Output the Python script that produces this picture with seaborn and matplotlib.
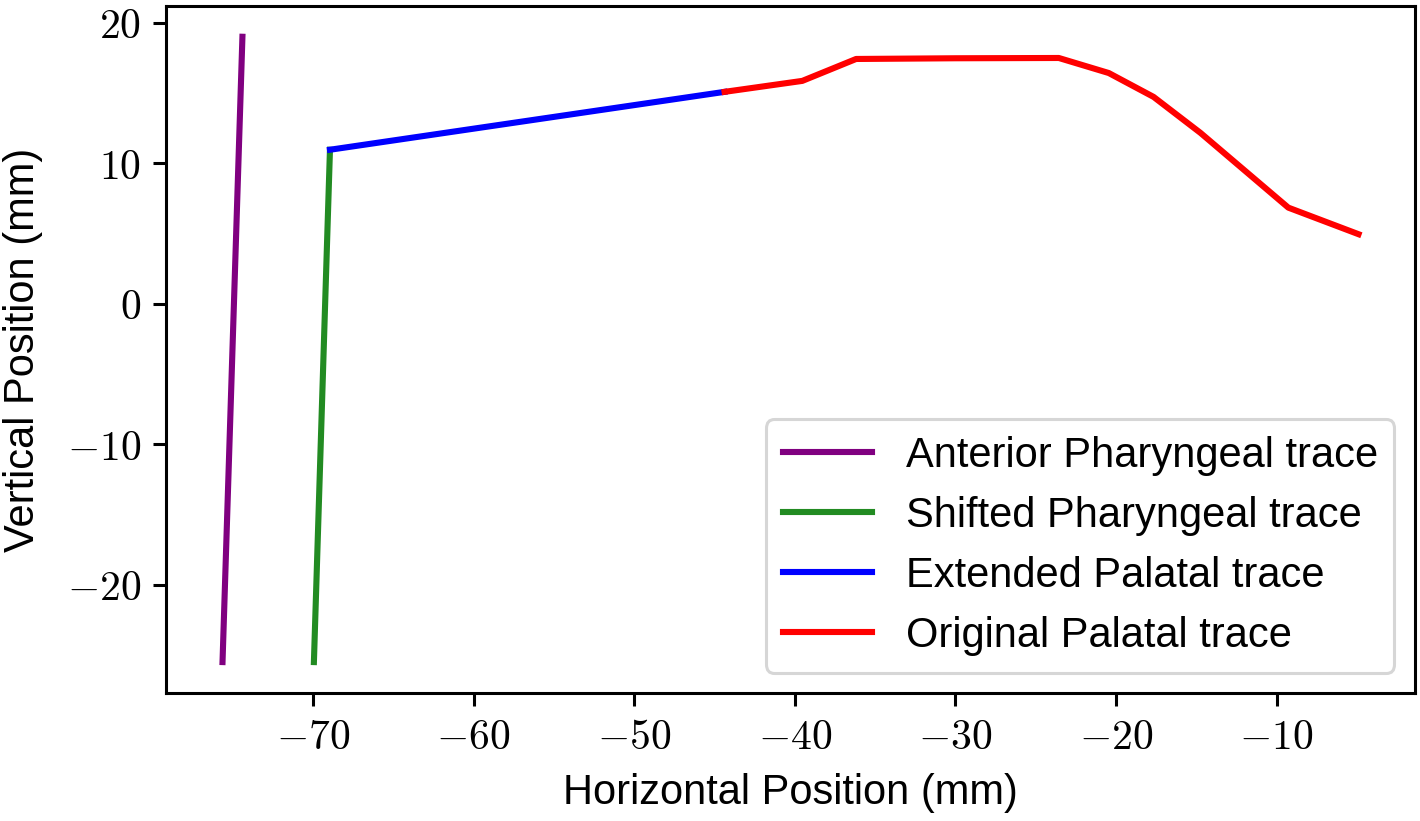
import numpy as np
import matplotlib
matplotlib.use("Agg")
import matplotlib.pyplot as plt
import seaborn as sns
from matplotlib.ticker import FuncFormatter

# traces (mm)
ant_x = [-75.63, -74.39]
ant_y = [-25.5, 19.0]

shift_x = [-69.94, -68.94]
shift_y = [-25.5, 10.96]

ext_x = [-68.94, -44.37]
ext_y = [10.96, 15.08]

orig_x = [-44.37, -39.53, -36.18, -30.0, -23.56, -20.45, -17.66, -14.74, -9.27, -4.9]
orig_y = [15.08, 15.86, 17.42, 17.47, 17.49, 16.42, 14.72, 12.16, 6.84, 4.95]

plt.rcParams['font.family'] = ['Liberation Sans', 'DejaVu Sans']
plt.rcParams['mathtext.fontset'] = 'cm'

fig = plt.figure(figsize=(7.1, 4.105), dpi=200)
ax = fig.add_axes([0.1167, 0.1555, 0.88, 0.8378])

lw = 2.2
sns.lineplot(x=ant_x, y=ant_y, sort=False, color="purple", lw=lw, ax=ax, label="Anterior Pharyngeal trace")
sns.lineplot(x=shift_x, y=shift_y, sort=False, color="forestgreen", lw=lw, ax=ax, label="Shifted Pharyngeal trace")
sns.lineplot(x=ext_x, y=ext_y, sort=False, color="blue", lw=lw, ax=ax, label="Extended Palatal trace")
sns.lineplot(x=orig_x, y=orig_y, sort=False, color="red", lw=lw, ax=ax, label="Original Palatal trace")

ax.set_xticks([-70, -60, -50, -40, -30, -20, -10])
ax.set_yticks([-20, -10, 0, 10, 20])
fmt = FuncFormatter(lambda v, _: f"${v:g}$")
ax.xaxis.set_major_formatter(fmt)
ax.yaxis.set_major_formatter(fmt)
ax.tick_params(labelsize=15, length=4.8, width=1.1, pad=4)
for s in ax.spines.values():
    s.set_linewidth(1.1)

ax.set_xlabel("Horizontal Position (mm)", fontsize=15, labelpad=5.5)
ax.set_ylabel("Vertical Position (mm)", fontsize=15, labelpad=8.5)

leg = ax.legend(loc="lower right", fontsize=15, labelspacing=0.48, handlelength=2.15)
leg.get_frame().set_linewidth(1.1)

fig.savefig("out.png", dpi=200)
